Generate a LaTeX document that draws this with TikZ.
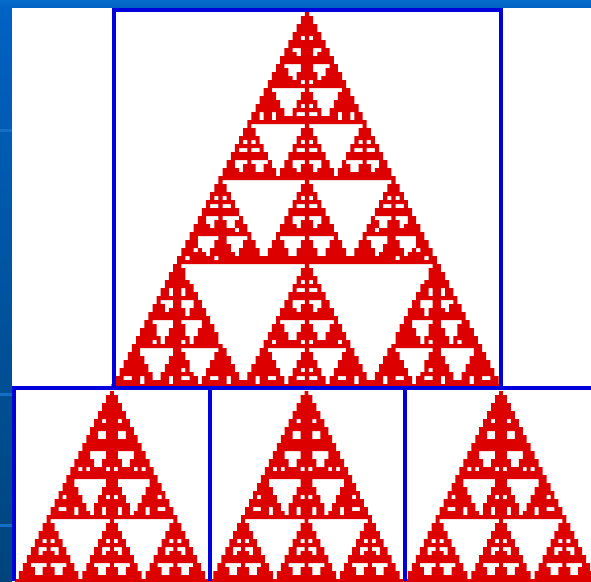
\documentclass[tikz,border=0pt]{standalone}
\definecolor{bgblue}{RGB}{0,98,194}
\definecolor{bgtop}{RGB}{8,108,204}
\definecolor{bgdark}{RGB}{0,68,124}
\definecolor{bgline}{RGB}{20,110,200}
\definecolor{frameblue}{RGB}{0,0,220}
\definecolor{fracred}{RGB}{221,0,0}

\newcount\ri \newcount\cj \newcount\fX \newcount\fY \newcount\fH \newcount\runstart
\newcount\Rrows \newcount\Jmax \newcount\LLv \newcount\thrv
\newif\ifcont \newif\ifinside \newif\ifinrun
\def\Fv{10000}

\def\testcell{%
  \conttrue\insidetrue
  \loop
    \ifnum\numexpr2*\ifnum\fX<0 -\fi\fX\relax>\fY\relax
      \insidefalse\contfalse
    \else
      \ifnum\fH<\thrv
        \contfalse
      \else
        \ifnum\numexpr3*\fY\relax<\numexpr2*\LLv\relax
          \fX=\numexpr3*\fX/2\relax
          \fY=\numexpr3*\fY/2\relax
          \fH=\numexpr2*\fH/3\relax
        \else
          \fY=\numexpr3*\fY-2*\LLv\relax
          \ifnum\numexpr6*\fX\relax<-\LLv
            \fX=\numexpr3*\fX+\LLv\relax
          \else
            \ifnum\numexpr6*\fX\relax<\LLv
              \fX=\numexpr3*\fX\relax
            \else
              \fX=\numexpr3*\fX-\LLv\relax
            \fi
          \fi
          \fH=\numexpr\fH/3\relax
        \fi
      \fi
    \fi
  \ifcont\repeat}

\def\trysample#1#2{%
  \ifinside\else
    \fX=\numexpr\cj*\Fv+(#1)\relax
    \fY=\numexpr\ri*\Fv+(#2)\relax
    \fH=\LLv
    \testcell
  \fi}

\def\emitrun#1{%
  \xdef\cellpath{\cellpath (\the\numexpr2*\runstart-1\relax,\the\ri) rectangle (\the\numexpr2*(#1)+1\relax,\the\numexpr\ri+1\relax) }}

\def\colstep{%
  \ifnum\cj>\Jmax\else
    \insidefalse
    \trysample{0}{\Fv/2}%
    \trysample{-\Fv/3}{\Fv/2}%
    \trysample{\Fv/3}{\Fv/2}%
    \trysample{0}{\Fv/6}%
    \trysample{0}{5*\Fv/6}%
    \trysample{-\Fv/3}{\Fv/6}%
    \trysample{\Fv/3}{\Fv/6}%
    \trysample{-\Fv/3}{5*\Fv/6}%
    \trysample{\Fv/3}{5*\Fv/6}%
    \ifinside
      \ifinrun\else\runstart=\cj\inruntrue\fi
    \else
      \ifinrun\emitrun{\cj-1}\inrunfalse\fi
    \fi
    \advance\cj 1
    \expandafter\colstep
  \fi}

\def\rowstep{%
  \ifnum\ri<\Rrows
    \inrunfalse
    \cj=-\Jmax
    \colstep
    \ifinrun\emitrun{\Jmax}\fi
    \advance\ri 1
    \expandafter\rowstep
  \fi}

\def\buildfractal#1#2{%
  \Rrows=#1\relax
  \Jmax=\numexpr#1/2+1\relax
  \LLv=\numexpr#1*\Fv\relax
  \thrv=\numexpr#2*\Fv/10\relax
  \gdef\cellpath{}\ri=0\relax
  \rowstep}

\buildfractal{94}{15}\global\let\toppath\cellpath
\buildfractal{48}{15}\global\let\botpath\cellpath

\def\fracfill{\fill[fracred]}

\tikzset{
  frameline/.style={draw=frameblue,line width=4pt,line join=miter},
}

\begin{document}
\begin{tikzpicture}[x=1pt,y=-1pt]
\useasboundingbox (0,0) rectangle (591,581);
% background
\fill[bgblue] (0,0) rectangle (591,581);
\shade[top color=bgtop,bottom color=bgblue] (0,0) rectangle (591,8);
\shade[top color=bgblue,bottom color=bgdark] (0,8) rectangle (12,581);
\fill[bgline] (0,129) rectangle (12,131.5);
\fill[bgline] (0,393) rectangle (12,395.5);
\fill[bgline] (0,524) rectangle (12,526.5);
\fill[white] (12,8) rectangle (591,581);
% fractals
\begin{scope}[shift={(307,12)},x=2.06pt,y=-4pt]
  \expandafter\fracfill\toppath;
\end{scope}
\begin{scope}[shift={(112,391)},x=1.98pt,y=-4pt]
  \expandafter\fracfill\botpath;
\end{scope}
\begin{scope}[shift={(306.5,391)},x=1.98pt,y=-4pt]
  \expandafter\fracfill\botpath;
\end{scope}
\begin{scope}[shift={(501,391)},x=1.98pt,y=-4pt]
  \expandafter\fracfill\botpath;
\end{scope}
% frames
\draw[frameline] (114,388) -- (114,10) -- (501,10) -- (501,388);
\draw[frameline] (12,388) -- (591,388);
\draw[frameline] (14,388) -- (14,581);
\draw[frameline] (209.5,388) -- (209.5,581);
\draw[frameline] (405,388) -- (405,581);
\end{tikzpicture}
\end{document}
